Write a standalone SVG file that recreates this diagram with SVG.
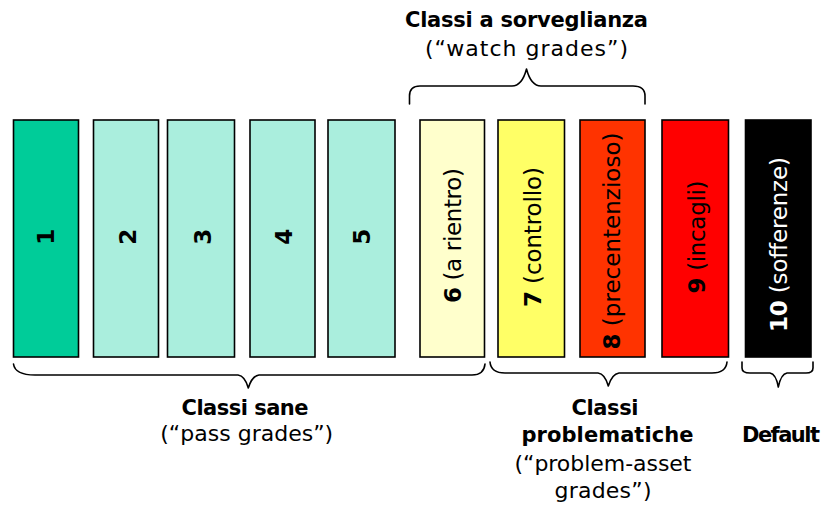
<svg xmlns="http://www.w3.org/2000/svg" width="823" height="510" viewBox="0 0 823 510">
<style>
.box{stroke:#000;stroke-width:1.6}
.t{font-family:"DejaVu Sans","Liberation Sans",sans-serif;font-size:23px;fill:#000}
.b{font-weight:bold}
.lbl{font-family:"DejaVu Sans","Liberation Sans",sans-serif;font-size:22px;fill:#000;text-anchor:middle}
.lbl.b{font-size:21px}
.brace{fill:none;stroke:#000;stroke-width:1.6;stroke-linejoin:round;stroke-linecap:round}
</style>
<rect width="823" height="510" fill="#fff"/>
<g id="grade1"><rect class="box" x="13.5" y="120" width="65" height="237" fill="#00CC99"/><text class="t b" text-anchor="middle" transform="translate(53.5,236.7) rotate(-90)">1</text></g>
<g id="grade2"><rect class="box" x="93.5" y="120" width="65" height="237" fill="#AAEEDD"/><text class="t b" text-anchor="middle" transform="translate(135.5,236.7) rotate(-90)">2</text></g>
<g id="grade3"><rect class="box" x="167.5" y="120" width="67" height="237" fill="#AAEEDD"/><text class="t b" text-anchor="middle" transform="translate(210.5,236.7) rotate(-90)">3</text></g>
<g id="grade4"><rect class="box" x="250" y="120" width="65" height="237" fill="#AAEEDD"/><text class="t b" text-anchor="middle" transform="translate(292,236.7) rotate(-90)">4</text></g>
<g id="grade5"><rect class="box" x="328" y="120" width="67" height="237" fill="#AAEEDD"/><text class="t b" text-anchor="middle" transform="translate(369.7,236.7) rotate(-90)">5</text></g>
<g id="grade6"><rect class="box" x="420" y="120" width="64.5" height="237" fill="#FFFFCC"/><text class="t" text-anchor="middle" textLength="135" transform="translate(461,235.6) rotate(-90)"><tspan class="b">6</tspan> (a rientro)</text></g>
<g id="grade7"><rect class="box" x="498" y="120" width="66.5" height="237" fill="#FFFF66"/><text class="t" text-anchor="middle" textLength="140" transform="translate(541,237) rotate(-90)"><tspan class="b">7</tspan> (controllo)</text></g>
<g id="grade8"><rect class="box" x="580" y="120" width="65" height="237" fill="#FF3300"/><text class="t" text-anchor="middle" textLength="217" transform="translate(620,241) rotate(-90)"><tspan class="b">8</tspan> (precentenzioso)</text></g>
<g id="grade9"><rect class="box" x="662" y="120" width="66.5" height="237" fill="#FF0000"/><text class="t" text-anchor="middle" textLength="113" transform="translate(705,237) rotate(-90)"><tspan class="b">9</tspan> (incagli)</text></g>
<g id="grade10"><rect class="box" x="745.5" y="120" width="65.5" height="237" fill="#000000"/><text class="t" style="fill:#fff" text-anchor="middle" textLength="175" transform="translate(787,244.5) rotate(-90)"><tspan class="b">10</tspan> (sofferenze)</text></g>
<g id="connectors">
<path class="brace" d="M409.5,104 L409.5,96 Q409.5,86 420,86 L512,86 Q522,86 526.5,69 Q531,86 541,86 L633,86 Q645,86 645,96 L645,104"/>
<path class="brace" d="M13.5,364 Q15,375 35,375 L238,375 Q245,376 248.3,388 Q252,376 259,375 L472,375 Q484,375 485,364"/>
<path class="brace" d="M490,362 Q491,373 505,373 L598,373 Q605,374 608.3,386 Q612,374 619,373 L712,373 Q726,373 727,362"/>
<path class="brace" d="M742,362 L742,368 Q742,373 750,373 L770,373 Q776,374 778.3,387 Q781,374 787,373 L806,373 Q813,373 813,368 L813,362"/>
</g>
<g id="watch-label">
<text class="lbl b" x="526.5" y="27" textLength="243">Classi a sorveglianza</text>
<text class="lbl" x="526.5" y="56" textLength="203">(“watch grades”)</text>
</g>
<g id="pass-label">
<text class="lbl b" x="245" y="415" textLength="127">Classi sane</text>
<text class="lbl" x="246.7" y="441" textLength="173">(“pass grades”)</text>
</g>
<g id="problem-label">
<text class="lbl b" x="605" y="415" textLength="67">Classi</text>
<text class="lbl b" x="607.5" y="442" textLength="172">problematiche</text>
<text class="lbl" x="603" y="471" textLength="177">(“problem-asset</text>
<text class="lbl" x="603" y="498" textLength="97">grades”)</text>
</g>
<g id="default-label">
<text class="lbl b" x="781" y="442" textLength="78">Default</text>
</g>
</svg>
